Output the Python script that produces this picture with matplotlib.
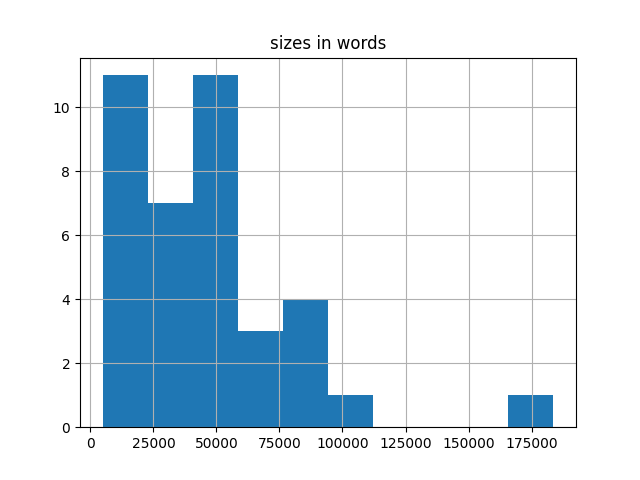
import matplotlib
matplotlib.use("Agg")
import matplotlib.pyplot as plt
import numpy as np

# Histogram bins (word counts) and counts per bin
bin_min = 4800
bin_max = 183700
counts = [11, 7, 11, 3, 4, 1, 0, 0, 0, 1]

edges = np.linspace(bin_min, bin_max, len(counts) + 1)
centers = (edges[:-1] + edges[1:]) / 2

fig, ax = plt.subplots(figsize=(6.4, 4.8), dpi=100)
ax.hist(centers, bins=edges, weights=counts, color="#1f77b4")
ax.grid(True)
ax.set_title("sizes in words")
fig.savefig("out.png")
